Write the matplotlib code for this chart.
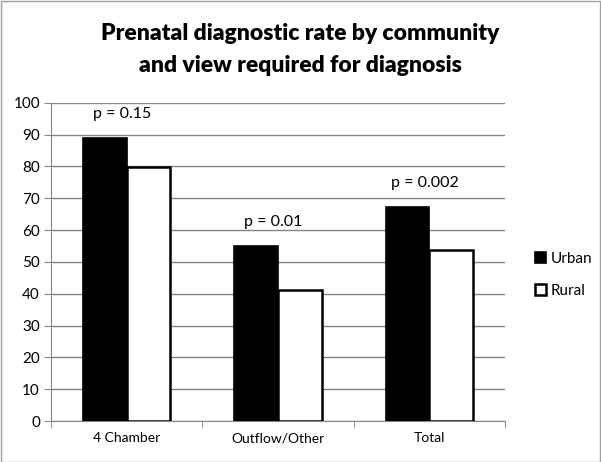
import matplotlib
matplotlib.use("Agg")
import matplotlib.pyplot as plt
import numpy as np

# donnees
categories = ["4 Chamber", "Outflow/Other", "Total"]
urban = [88.8, 55.1, 67.2]
rural = [79.8, 41.3, 53.7]
p_labels = ["p = 0.15", "p = 0.01", "p = 0.002"]

plt.rcParams['font.family'] = ['Lato', 'DejaVu Sans']

fig = plt.figure(figsize=(6.01, 4.62), dpi=100)
ax = fig.add_axes([0.0849, 0.0887, 0.7554, 0.689])

x = np.arange(len(categories))
w = 0.288
ax.bar(x - w / 2, urban, w, color="black", edgecolor="black", linewidth=1.2, label="Urban", zorder=3)
ax.bar(x + w / 2, rural, w, color="white", edgecolor="black", linewidth=1.8, label="Rural", zorder=3)

# p-values au dessus des groupes
for i, txt in enumerate(p_labels):
    ax.text(x[i] - 0.03, max(urban[i], rural[i]) + 7.5, txt, ha="center", va="center", fontsize=11.5)

ax.set_xlim(-0.5, len(categories) - 0.5)
ax.set_ylim(0, 100)
ax.set_yticks(range(0, 101, 10))
ax.set_xticks(x)
ax.set_xticklabels(categories, fontsize=10)
ax.set_xticks(np.arange(-0.5, len(categories)), minor=True)
ax.tick_params(axis="x", which="major", length=0, pad=8)
ax.tick_params(axis="x", which="minor", length=5, color="#868686", direction="out")
ax.tick_params(axis="y", labelsize=11, length=5, color="#868686", pad=3)
ax.yaxis.grid(True, color="#868686", linewidth=1)
ax.set_axisbelow(True)
for s in ["top", "right"]:
    ax.spines[s].set_visible(False)
for s in ["left", "bottom"]:
    ax.spines[s].set_color("#868686")

fig.text(0.5, 0.893, "Prenatal diagnostic rate by community\nand view required for diagnosis",
         ha="center", va="center", fontsize=16.5, fontweight="heavy", linespacing=1.6)

leg = fig.legend(loc="center left", bbox_to_anchor=(0.868, 0.405), frameon=False,
                 fontsize=11, handlelength=0.7, handleheight=0.7, handletextpad=0.3, labelspacing=1.2)

# cadre exterieur
fig.patches.append(plt.Rectangle((0.001, 0.001), 0.997, 0.997, transform=fig.transFigure,
                                 fill=False, edgecolor="#a0a0a0", linewidth=1))

fig.savefig("out.png", dpi=100)
